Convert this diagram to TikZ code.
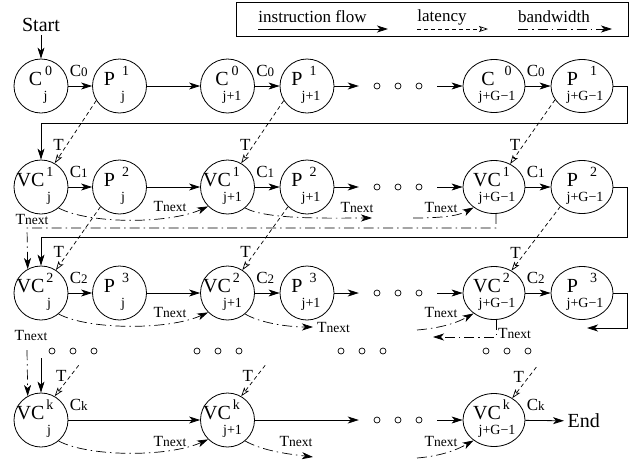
\documentclass[tikz,border=0pt]{standalone}
\usepackage{fontspec}
\setmainfont{Liberation Serif}
\usetikzlibrary{arrows.meta,shapes.geometric,calc}

\newcommand\mainsz{\fontsize{20}{22}\selectfont}
\newcommand\supsz{\fontsize{14}{15}\selectfont}
\newcommand\subsz{\fontsize{14}{15}\selectfont}
\newcommand\labsz{\fontsize{17}{18}\selectfont}
\newcommand\idxsz{\fontsize{13}{14}\selectfont}

% C with a small index on the baseline, and the T_next label
\newcommand\Cix[1]{C{\idxsz #1}}
\newcommand\Tn{T{\fontsize{13.5}{14}\selectfont next}}

% stage: name, position, shape, letters, gap, superscript, subscript, dx of top line, dx of bottom line
\newcommand\stage[9]{%
  \node[#3] (#1) at (#2) {};
  \node[anchor=base, inner sep=0pt] (#1-top) at ([shift={(#8,-1)}]#1.center)
    {\mainsz #4\hspace{#5pt}\raisebox{10pt}{\supsz #6}};
  \node[anchor=base, inner sep=0pt] (#1-bot) at ([shift={(#9,14)}]#1.center) {\subsz #7};
}

% a row of three small circles standing for elided stages
\newcommand\dotrow[2]{%
  \node[dotbox] (#1) at (#2) {};
  \foreach \d in {-21,0,21} \draw[dotc] ([shift={(\d,0)}]#1.center) circle[radius=3pt];
}

\tikzset{
  stage/.style={circle, draw, line width=0.8pt, minimum size=54pt, inner sep=0pt},
  wide/.style={ellipse, draw, line width=0.8pt, minimum width=62pt, minimum height=53pt, inner sep=0pt},
  dotbox/.style={rectangle, minimum width=78pt, minimum height=8pt, inner sep=0pt},
  dotc/.style={line width=0.7pt},
  flow/.style={line width=0.8pt, -{Stealth[length=11pt,width=7pt,inset=3pt]}},
  lat/.style={line width=0.7pt, dash pattern=on 4pt off 3pt, -{Stealth[open,length=9pt,width=6pt,inset=2pt]}},
  bw/.style={line width=0.7pt, dash pattern=on 10pt off 4pt on 1.5pt off 4pt, -{Stealth[length=11pt,width=7pt,inset=3pt]}},
  clab/.style={pos=0, anchor=base west, inner sep=0pt, xshift=1pt, yshift=10pt, font=\labsz},
  tlab/.style={font=\labsz, inner sep=2pt},
  tnlab/.style={inner sep=1pt, font=\fontsize{15.5}{16}\selectfont},
  big/.style={font=\fontsize{20}{22}\selectfont},
  lgtext/.style={font=\fontsize{17}{18}\selectfont, inner sep=0pt}
}

\begin{document}
\begin{tikzpicture}[x=1pt, y=-1pt]
\useasboundingbox (0,0) rectangle (629,461);

% legend
\draw[line width=0.8pt] (236,2) rectangle (628.5,36);
\node[lgtext] (lgflow) at (312.5,17) {instruction flow};
\node[lgtext] (lglat) at (442,17) {latency};
\node[lgtext] (lgbw) at (554,17) {bandwidth};
\coordinate (lgflowa) at (258,29); \coordinate (lgflowb) at (388,29);
\coordinate (lglata) at (417,29);  \coordinate (lglatb) at (488,29);
\coordinate (lgbwa) at (518,29);   \coordinate (lgbwb) at (612,29);
\draw[flow] (lgflowa) -- (lgflowb);
\draw[lat] (lglata) -- (lglatb);
\draw[bw] (lgbwa) -- (lgbwb);

% stage 0
\node[big] (start) at (41,25) {Start};
\stage{C0j}{41,86}{stage}{C}{3}{0}{j}{-0.5}{4.5}
\stage{P1j}{119.5,86}{stage}{P}{7}{1}{j}{-3}{3.5}
\stage{C0ja}{227.5,86}{stage}{C}{3}{0}{j+1}{-0.5}{4.5}
\stage{P1ja}{307,86}{stage}{P}{7}{1}{j+1}{-3}{4}
\dotrow{d0}{398,86}
\stage{C0jg}{494,86}{wide}{C}{10}{0}{j+G−1}{2.5}{3}
\stage{P1jg}{582,86}{wide}{P}{12}{1}{j+G−1}{0}{3}

% stage 1
\stage{VC1j}{41,187}{stage}{VC}{2}{1}{j}{-6}{8}
\stage{P2j}{119.5,187}{stage}{P}{7}{2}{j}{-3}{3.5}
\stage{VC1ja}{227.5,187}{stage}{VC}{2}{1}{j+1}{-6}{5}
\stage{P2ja}{307,187}{stage}{P}{7}{2}{j+1}{-3}{4}
\dotrow{d1}{398,187}
\stage{VC1jg}{494,187}{wide}{VC}{2}{1}{j+G−1}{-2.5}{3}
\stage{P2jg}{582,187}{wide}{P}{12}{2}{j+G−1}{0}{3}

% stage 2
\stage{VC2j}{41,293}{stage}{VC}{2}{2}{j}{-6}{8}
\stage{P3j}{119.5,293}{stage}{P}{7}{3}{j}{-3}{3.5}
\stage{VC2ja}{227.5,293}{stage}{VC}{2}{2}{j+1}{-6}{5}
\stage{P3ja}{307,293}{stage}{P}{7}{3}{j+1}{-3}{4}
\dotrow{d2}{398,293}
\stage{VC2jg}{494,293}{wide}{VC}{2}{2}{j+G−1}{-2.5}{3}
\stage{P3jg}{582,293}{wide}{P}{12}{3}{j+G−1}{0}{3}

% elided stages
\foreach \cx in {73,218,362,507}
  \foreach \d in {-21,0,21}
    \draw[dotc] (\cx+\d,351) circle[radius=3pt];

% stage k
\stage{VCkj}{41,420}{stage}{VC}{2}{k}{j}{-6}{8}
\stage{VCkja}{227.5,420}{stage}{VC}{2}{k}{j+1}{-6}{5}
\dotrow{dk}{398,420}
\stage{VCkjg}{494,420}{wide}{VC}{2}{k}{j+G−1}{-2.5}{3}
\node[big, anchor=west] (end) at (564,421) {End};

% instruction flow, stage 0
\draw[flow] (start) -- (C0j);
\draw[flow] (C0j) -- node[clab]{\Cix{0}} (P1j);
\draw[flow] (P1j) -- (C0ja);
\draw[flow] (C0ja) -- node[clab]{\Cix{0}} (P1ja);
\draw[flow] (P1ja) -- (d0);
\draw[flow] (d0) -- (C0jg);
\draw[flow] (C0jg) -- node[clab]{\Cix{0}} (P1jg);
\coordinate (w0) at (627,123);
\draw[flow] (P1jg.east) -| (w0) -| (VC1j);

% instruction flow, stage 1
\draw[flow] (VC1j) -- node[clab]{\Cix{1}} (P2j);
\draw[flow] (P2j) -- (VC1ja);
\draw[flow] (VC1ja) -- node[clab]{\Cix{1}} (P2ja);
\draw[flow] (P2ja) -- (d1);
\draw[flow] (d1) -- (VC1jg);
\draw[flow] (VC1jg) -- node[clab]{\Cix{1}} (P2jg);
\coordinate (w1) at (627,237);
\draw[flow] (P2jg.east) -| (w1) -| (VC2j);

% instruction flow, stage 2
\draw[flow] (VC2j) -- node[clab]{\Cix{2}} (P3j);
\draw[flow] (P3j) -- (VC2ja);
\draw[flow] (VC2ja) -- node[clab]{\Cix{2}} (P3ja);
\draw[flow] (P3ja) -- (d2);
\draw[flow] (d2) -- (VC2jg);
\draw[flow] (VC2jg) -- node[clab]{\Cix{2}} (P3jg);
\coordinate (w2) at (627,328);
\coordinate (w2e) at (587,328);
\draw[flow] (P3jg.east) -| (w2) -- (w2e);

% instruction flow, stage k
\coordinate (ink) at (41,358);
\draw[flow] (ink) -- (VCkj);
\draw[flow] (VCkj) -- node[clab]{\Cix{k}} (VCkja);
\draw[flow] (VCkja) -- (dk);
\draw[flow] (dk) -- (VCkjg);
\draw[flow] (VCkjg) -- node[clab]{\Cix{k}} (end);

% latency
\draw[lat] (P1j.212) -- node[tlab, pos=0.7, left=1pt]{T} (VC1j.60);
\draw[lat] (P1ja.212) -- node[tlab, pos=0.7, left=1pt]{T} (VC1ja.60);
\draw[lat] (P1jg.207) -- node[tlab, pos=0.7, left=1pt]{T} (VC1jg.55);
\draw[lat] (P2j.226) -- node[tlab, pos=0.72, left=2pt]{T} (VC2j.57);
\draw[lat] (P2ja.226) -- node[tlab, pos=0.72, left=2pt]{T} (VC2ja.57);
\draw[lat] (P2jg.222) -- node[tlab, pos=0.72, left=2pt]{T} (VC2jg.52);
\coordinate (lk1) at ($(VCkj.60)+(24,-31)$);
\coordinate (lk2) at ($(VCkja.60)+(24,-31)$);
\coordinate (lk3) at ($(VCkjg.50)+(24,-31)$);
\draw[lat] (lk1) -- node[tlab, pos=0.33, left=2pt]{T} (VCkj.60);
\draw[lat] (lk2) -- node[tlab, pos=0.33, left=2pt]{T} (VCkja.60);
\draw[lat] (lk3) -- node[tlab, pos=0.33, left=2pt]{T} (VCkjg.50);

% bandwidth, stage 1
\coordinate (e12) at (372,218);
\coordinate (s13) at (413,218);
\draw[bw] (VC1j.-50) .. controls +(30,16) and +(-40,18) .. (VC1ja.-135);
\draw[bw] (VC1ja.-50) .. controls +(22,12) and +(-40,0) .. (e12);
\draw[bw] (s13) .. controls +(25,0) and +(-16,9) .. (VC1jg.-135);
\node[tnlab] (tn11) at (170,206) {\Tn};
\node[tnlab] (tn12) at (357,207) {\Tn};
\node[tnlab] (tn13) at (441,207) {\Tn};
\coordinate (b1) at (27,228);
\draw[bw] ([xshift=2pt]VC1jg.south) |- (b1) -- (VC2j.119);
\node[tnlab] (tn1w) at (32,219) {\Tn};

% bandwidth, stage 2
\coordinate (e22) at (313,327);
\coordinate (s23) at (417,330);
\draw[bw] (VC2j.-50) .. controls +(30,16) and +(-40,18) .. (VC2ja.-135);
\draw[bw] (VC2ja.-50) .. controls +(15,9) and +(-25,0) .. (e22);
\draw[bw] (s23) .. controls +(25,-2) and +(-16,9) .. (VC2jg.-135);
\node[tnlab] (tn21) at (170,312) {\Tn};
\node[tnlab, anchor=west] (tn22) at (316,327) {\Tn};
\node[tnlab] (tn23) at (441,312) {\Tn};
\coordinate (b2) at (433,337);
\draw[bw] ([xshift=2pt]VC2jg.south) |- (b2);
\node[tnlab, anchor=west] (tn2w) at (497,333) {\Tn};

% bandwidth, stage k
\coordinate (inkb) at (27,350);
\draw[bw] (inkb) -- (VCkj.119);
\node[tnlab] (tnkw) at (31,335) {\Tn};
\coordinate (ek2) at (313,457);
\coordinate (sk3) at (417,458);
\draw[bw] (VCkj.-50) .. controls +(30,16) and +(-40,18) .. (VCkja.-135);
\draw[bw] (VCkja.-50) .. controls +(18,10) and +(-25,-3) .. (ek2);
\draw[bw] (sk3) .. controls +(25,-2) and +(-16,9) .. (VCkjg.-135);
\node[tnlab] (tnk1) at (170,441) {\Tn};
\node[tnlab] (tnk2) at (296,441) {\Tn};
\node[tnlab] (tnk3) at (441,441) {\Tn};
\end{tikzpicture}
\end{document}
